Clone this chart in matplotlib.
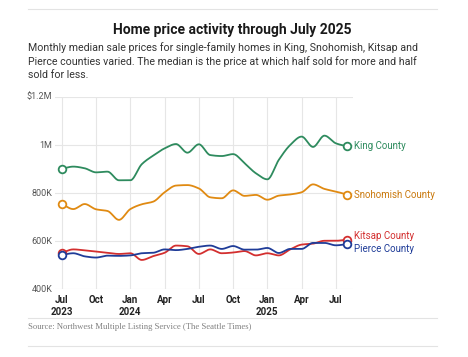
import numpy as np
import matplotlib
matplotlib.use('Agg')
import matplotlib.pyplot as plt
from matplotlib.lines import Line2D

# Monthly median sale price, thousands of dollars, Jul 2023 - Aug 2025
months = list(range(26))
king = [901, 910, 903, 886, 889, 853, 853, 920, 956, 986, 1004, 968, 1003,
        958, 954, 962, 924, 882, 857, 938, 1000, 1035, 992, 1039, 1007, 994]
snohomish = [754, 733, 754, 732, 725, 688, 733, 753, 764, 803, 831, 833, 819,
             782, 778, 811, 788, 792, 772, 789, 794, 803, 836, 817, 806, 793]
kitsap = [551, 565, 561, 556, 551, 546, 549, 521, 537, 551, 581, 578, 546,
          565, 549, 552, 558, 540, 549, 540, 565, 585, 589, 601, 601, 606]
pierce = [542, 549, 536, 531, 539, 538, 540, 549, 551, 565, 562, 567, 576,
          581, 567, 579, 564, 564, 571, 550, 567, 567, 592, 592, 582, 587]

tick_pos = [0, 3, 6, 9, 12, 15, 18, 21, 24]
tick_labels = ['Jul\n2023', 'Oct', 'Jan\n2024', 'Apr', 'Jul', 'Oct', 'Jan\n2025', 'Apr', 'Jul']
y_ticks = [400, 600, 800, 1000, 1200]
y_labels = ['400K', '600K', '800K', '1M', '$1.2M']

series = [
    ('King County', king, '#2e8b5e', '#2e8b5e', 0),
    ('Snohomish County', snohomish, '#e08a12', '#c9780c', 0),
    ('Kitsap County', kitsap, '#d32f2f', '#d32f2f', 2.5),
    ('Pierce County', pierce, '#1f3c98', '#1f3c98', -3.5),
]


def pchip(x, y, n=20):
    # monotone cubic curve through the points, only for drawing
    x = np.asarray(x, float)
    y = np.asarray(y, float)
    h = np.diff(x)
    d = np.diff(y) / h
    m = np.zeros_like(y)
    for k in range(1, len(y) - 1):
        if d[k - 1] * d[k] > 0:
            m[k] = 2 / (1 / d[k - 1] + 1 / d[k])
    m[0], m[-1] = d[0], d[-1]
    xs, ys = [], []
    for k in range(len(x) - 1):
        t = np.linspace(0, 1, n, endpoint=False)
        h00 = 2 * t**3 - 3 * t**2 + 1
        h10 = t**3 - 2 * t**2 + t
        h01 = -2 * t**3 + 3 * t**2
        h11 = t**3 - t**2
        xs.append(x[k] + t * h[k])
        ys.append(h00 * y[k] + h10 * h[k] * m[k] + h01 * y[k + 1] + h11 * h[k] * m[k + 1])
    xs.append([x[-1]])
    ys.append([y[-1]])
    return np.concatenate(xs), np.concatenate(ys)


plt.rcParams['font.family'] = ['Roboto', 'DejaVu Sans']

fig = plt.figure(figsize=(4.68, 3.57), dpi=100)
W, H = 468, 357

ax = fig.add_axes([55 / W, 1 - 289 / H, (353 - 55) / W, (289 - 97) / H])
for name, vals, col, lcol, dy in series:
    xs, ys = pchip(months, vals)
    ax.plot(xs, ys, color=col, lw=1.3, zorder=3)
    ax.plot([months[0], months[-1]], [vals[0], vals[-1]], 'o', ms=5.5, mfc='white',
            mec=col, mew=1.3, zorder=4)
    ax.annotate(name, (months[-1], vals[-1]), xytext=(4.5, dy), textcoords='offset points',
                va='center', ha='left', color=lcol, fontsize=7.0, annotation_clip=False)

ax.set_xlim(-0.6, 25.5)
ax.set_ylim(400, 1200)
ax.set_yticks(y_ticks)
ax.set_yticklabels(y_labels)
ax.set_xticks(tick_pos)
ax.set_xticklabels(tick_labels, fontweight='bold', fontsize=7, color='#222222', linespacing=1.3)
ax.tick_params(axis='y', length=0, labelsize=6.5, labelcolor='#555555', pad=2)
ax.tick_params(axis='x', length=0, pad=4)
ax.grid(True, color='#e6e6e6', lw=0.8)
ax.set_axisbelow(True)
for s in ax.spines.values():
    s.set_visible(False)
for lab in ax.get_yticklabels():
    lab.set_verticalalignment('center')

# rules and text
def hline(y):
    fig.add_artist(Line2D([28 / W, 437 / W], [1 - y / H, 1 - y / H], color='#e3e3e3', lw=0.8))

hline(9)
hline(318)
hline(346)

fig.text(232 / W, 1 - 30 / H, 'Home price activity through July 2025', ha='center', va='center',
         fontsize=10, fontweight='bold', color='#1a1a1a')
fig.text(28 / W, 1 - 42 / H,
         'Monthly median sale prices for single-family homes in King, Snohomish, Kitsap and\n'
         'Pierce counties varied. The median is the price at which half sold for more and half\n'
         'sold for less.',
         ha='left', va='top', fontsize=7.7, color='#333333', linespacing=1.35)
fig.text(28 / W, 1 - 327 / H, 'Source: Northwest Multiple Listing Service (The Seattle Times)',
         ha='left', va='center', fontsize=6.2, color='#808080', family='Liberation Serif')

fig.savefig('out.png', dpi=100)
